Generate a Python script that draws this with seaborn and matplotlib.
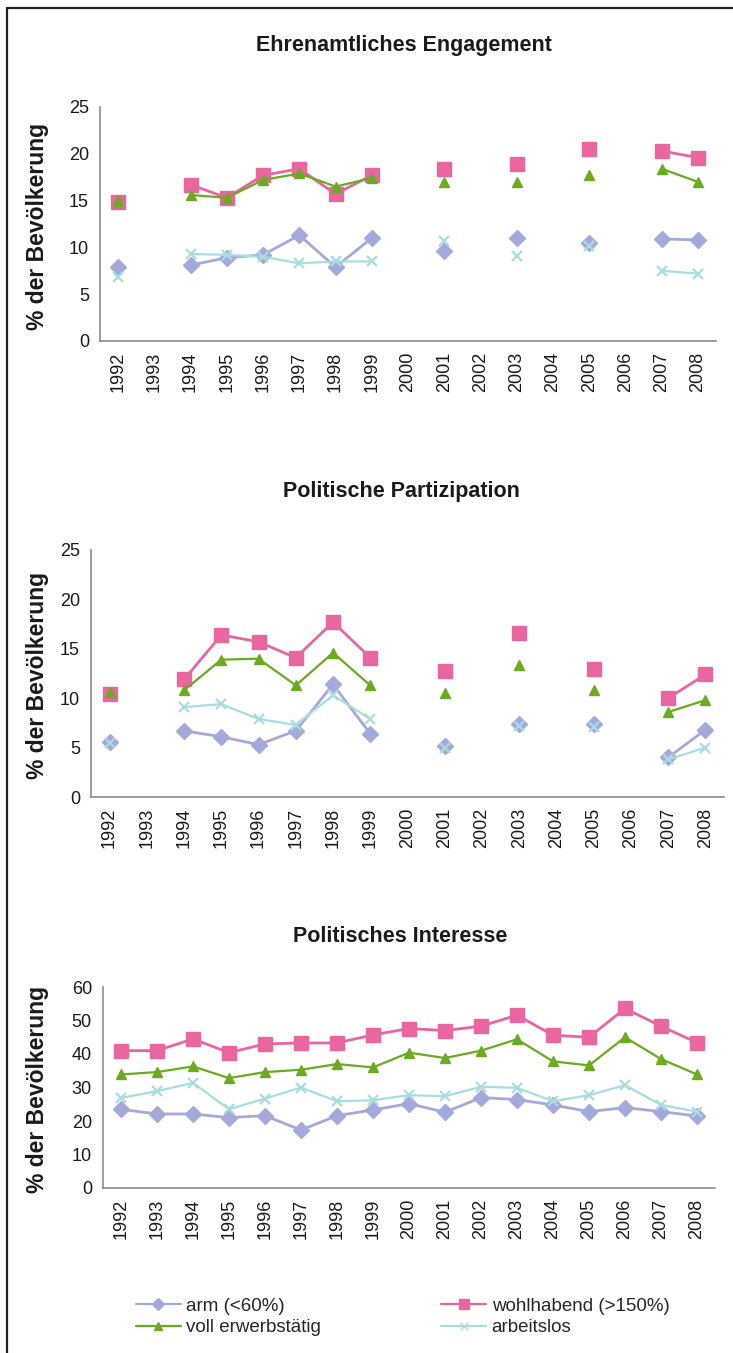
import numpy as np
import pandas as pd
import matplotlib
matplotlib.use("Agg")
import matplotlib.pyplot as plt
import seaborn as sns
from matplotlib.lines import Line2D

nan = np.nan
years = list(range(1992, 2009))

series_names = ["arm (<60%)", "wohlhabend (>150%)", "voll erwerbstätig", "arbeitslos"]

# Panel 1: Ehrenamtliches Engagement
ehren_arm = [7.9, nan, 8.1, 8.9, 9.2, 11.3, 7.9, 11.0, nan, 9.6, nan, 11.0, nan, 10.5, nan, 10.9, 10.8]
ehren_wohl = [14.8, nan, 16.7, 15.3, 17.7, 18.4, 15.7, 17.7, nan, 18.4, nan, 18.9, nan, 20.5, nan, 20.3, 19.6]
ehren_voll = [15.0, nan, 15.6, 15.3, 17.2, 17.9, 16.5, 17.4, nan, 17.0, nan, 17.0, nan, 17.7, nan, 18.4, 17.0]
ehren_arbl = [6.8, nan, 9.3, 9.2, 9.0, 8.3, 8.5, 8.5, nan, 10.7, nan, 9.1, nan, 10.1, nan, 7.5, 7.2]

# Panel 2: Politische Partizipation
partz_arm = [5.6, nan, 6.7, 6.1, 5.3, 6.7, 11.4, 6.4, nan, 5.2, nan, 7.4, nan, 7.4, nan, 4.0, 6.8]
partz_wohl = [10.4, nan, 11.9, 16.4, 15.7, 14.1, 17.7, 14.1, nan, 12.8, nan, 16.6, nan, 13.0, nan, 10.0, 12.4]
partz_voll = [10.6, nan, 10.8, 13.9, 14.0, 11.3, 14.6, 11.3, nan, 10.5, nan, 13.4, nan, 10.8, nan, 8.6, 9.8]
partz_arbl = [5.5, nan, 9.1, 9.4, 7.9, 7.3, 10.3, 7.9, nan, 5.0, nan, 7.2, nan, 7.1, nan, 3.8, 5.0]

# Panel 3: Politisches Interesse
inter_arm = [23.5, 22.1, 22.1, 21.0, 21.6, 17.3, 21.6, 23.3, 25.2, 22.6, 27.0, 26.4, 24.8, 22.8, 24.0, 22.8, 21.5]
inter_wohl = [41.0, 41.0, 44.5, 40.4, 43.0, 43.3, 43.3, 45.7, 47.6, 47.0, 48.3, 51.6, 45.6, 45.0, 53.6, 48.3, 43.4]
inter_voll = [33.9, 34.6, 36.3, 32.8, 34.6, 35.3, 37.0, 36.0, 40.4, 38.8, 41.0, 44.4, 37.8, 36.6, 45.0, 38.5, 33.9]
inter_arbl = [26.9, 28.9, 31.4, 23.5, 26.7, 30.0, 25.9, 26.2, 27.7, 27.4, 30.2, 29.9, 25.9, 27.7, 30.7, 24.8, 22.8]

panel_titles = ["Ehrenamtliches Engagement", "Politische Partizipation", "Politisches Interesse"]
ylabel = "% der Bevölkerung"
panel_yticks = [[0, 5, 10, 15, 20, 25], [0, 5, 10, 15, 20, 25], [0, 10, 20, 30, 40, 50, 60]]

panels = [
    [ehren_arm, ehren_wohl, ehren_voll, ehren_arbl],
    [partz_arm, partz_wohl, partz_voll, partz_arbl],
    [inter_arm, inter_wohl, inter_voll, inter_arbl],
]

colors = ["#a3a9da", "#ea66a0", "#6aab1f", "#a6dde2"]
markers = ["D", "s", "^", "x"]
msizes = [8, 10, 7, 7]
lwidths = [2.0, 2.0, 1.6, 1.6]
mew = [1, 1, 1, 1.6]

sns.set_style("white")
plt.rcParams["font.family"] = ["Liberation Sans", "DejaVu Sans"]

W, H = 733, 1353
fig = plt.figure(figsize=(W / 100, H / 100), dpi=100)

# axes rectangles in pixel coords: left, top, right, bottom
rects = [(100, 107, 716, 341), (91, 550, 724, 797), (103, 987, 715, 1188)]
title_y = [46, 492, 936]
title_x = [404, 401, 400]


def segments(vals):
    seg = []
    sid = 0
    prev = False
    for v in vals:
        ok = not np.isnan(v)
        if ok and not prev:
            sid += 1
        seg.append(sid if ok else -1)
        prev = ok
    return seg


axes = []
for p, (l, t, r, b) in enumerate(rects):
    ax = fig.add_axes([l / W, 1 - b / H, (r - l) / W, (b - t) / H])
    axes.append(ax)
    for i, vals in enumerate(panels[p]):
        df = pd.DataFrame({"year": years, "value": vals, "seg": segments(vals)})
        df = df[df["seg"] >= 0]
        sns.lineplot(data=df, x="year", y="value", units="seg", estimator=None,
                     color=colors[i], marker=markers[i], markersize=msizes[i],
                     markeredgecolor=colors[i], markeredgewidth=mew[i],
                     linewidth=lwidths[i], ax=ax, legend=False, sort=False)
    ax.set_xlim(1991.5, 2008.5)
    yt = panel_yticks[p]
    ax.set_ylim(yt[0], yt[-1])
    ax.set_yticks(yt)
    ax.set_xticks(years)
    ax.set_xticklabels([str(y) for y in years], rotation=90)
    ax.set_xticks([y + 0.5 for y in [1991] + years], minor=True)
    ax.tick_params(axis="x", which="major", length=0, pad=8, labelsize=13, colors="#1a1a1a")
    ax.tick_params(axis="x", which="minor", length=6, width=1.2, color="#8c8c8c")
    ax.tick_params(axis="y", which="major", length=5, width=1.2, color="#8c8c8c",
                   labelsize=13, labelcolor="#1a1a1a", pad=3)
    ax.set_xlabel("")
    ax.set_ylabel("")
    for s in ["top", "right"]:
        ax.spines[s].set_visible(False)
    for s in ["left", "bottom"]:
        ax.spines[s].set_color("#8c8c8c")
        ax.spines[s].set_linewidth(1.2)
    fig.text(title_x[p] / W, 1 - title_y[p] / H, panel_titles[p], ha="center", va="center",
             fontsize=15.5, fontweight="bold", color="#1a1a1a")
    fig.text(38 / W, 1 - ((t + b) / 2 + 2) / H, ylabel, rotation=90, ha="center", va="center",
             fontsize=16.5, fontweight="bold", color="#1a1a1a")

# legend
handles = []
for i in range(4):
    handles.append(Line2D([0], [0], color=colors[i], marker=markers[i],
                          markersize=msizes[i] * 0.75, markeredgecolor=colors[i],
                          linewidth=1.6))
order = [0, 2, 1, 3]
fig.legend([handles[i] for i in order], [series_names[i] for i in order], ncol=2,
           loc="upper left", bbox_to_anchor=(128 / W, 1 - 1290 / H), frameon=False,
           fontsize=13.5, handlelength=2.4, handletextpad=0.3, columnspacing=6.4,
           labelspacing=0.25, borderaxespad=0)

# outer frame (left and top edges visible)
fig.add_artist(Line2D([7 / W, 7 / W], [0, 1 - 8 / H], color="#222222", linewidth=1.6))
fig.add_artist(Line2D([7 / W, 1], [1 - 8 / H, 1 - 8 / H], color="#222222", linewidth=1.6))

fig.savefig("out.png", dpi=100)
